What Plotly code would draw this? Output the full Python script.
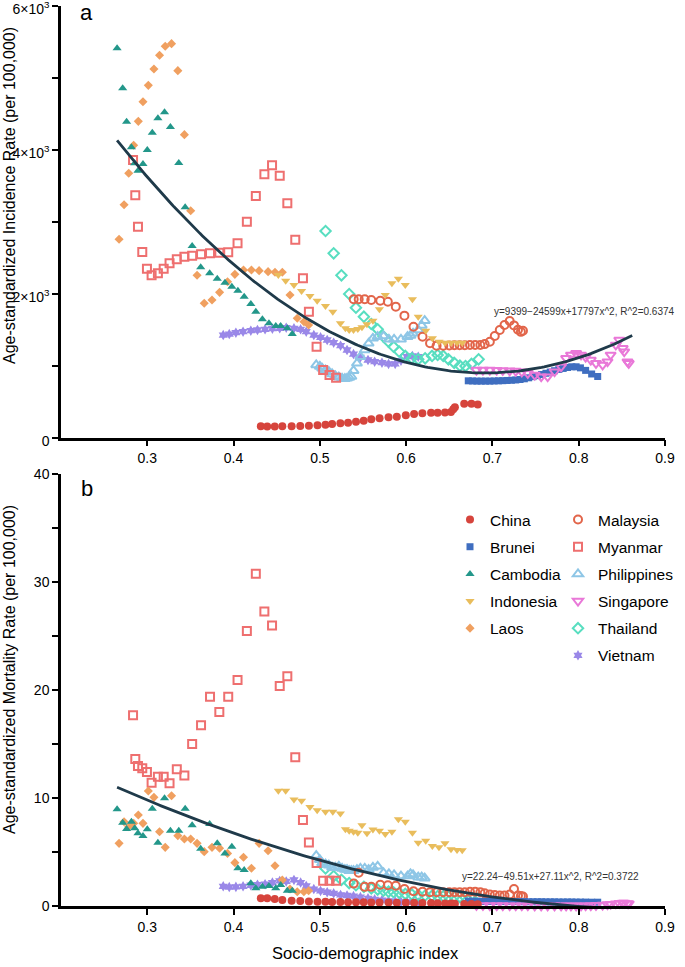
import numpy as np
import plotly.graph_objects as go

# ---------------- data ----------------
countries = ["China", "Brunei", "Cambodia", "Indonesia", "Laos",
             "Malaysia", "Myanmar", "Philippines", "Singapore", "Thailand", "Vietnam"]

china_x = [0.4316, 0.4390, 0.4477, 0.4565, 0.4673, 0.4773, 0.4873, 0.4973, 0.5065, 0.5142, 0.5238, 0.5327, 0.5419, 0.5508, 0.5596,
           0.5692, 0.5796, 0.5892, 0.5996, 0.6092, 0.6188, 0.6289, 0.6365, 0.6450, 0.6519, 0.6546, 0.6565, 0.6673, 0.6757, 0.6830]
china_inc = [158, 157, 157, 158, 160, 163, 167, 172, 180, 190, 200, 209, 222, 236, 255,
             269, 283, 292, 311, 329, 340, 345, 347, 350, 357, 394, 422, 470, 470, 462]
china_mort = [0.74, 0.74, 0.68, 0.58, 0.52, 0.49, 0.45, 0.42, 0.42, 0.40, 0.40, 0.38, 0.38, 0.37, 0.36,
              0.36, 0.35, 0.34, 0.33, 0.32, 0.31, 0.30, 0.28, 0.27, 0.25, 0.24, 0.23, 0.22, 0.21, 0.20]

brunei_x = [0.672, 0.677, 0.682, 0.687, 0.692, 0.697, 0.702, 0.707, 0.712, 0.717, 0.722, 0.727, 0.732, 0.737, 0.742,
            0.747, 0.752, 0.757, 0.762, 0.767, 0.772, 0.777, 0.782, 0.787, 0.792, 0.797, 0.802, 0.808, 0.815, 0.822]
brunei_inc = [790, 788, 786, 786, 786, 786, 788, 790, 792, 795, 798, 802, 808, 818, 832,
              848, 862, 878, 895, 912, 930, 948, 962, 975, 985, 985, 970, 935, 885, 850]
brunei_mort = [0.48, 0.47, 0.47, 0.46, 0.46, 0.45, 0.45, 0.45, 0.44, 0.44, 0.44, 0.43, 0.43, 0.43, 0.42,
               0.42, 0.42, 0.42, 0.41, 0.41, 0.41, 0.40, 0.40, 0.40, 0.40, 0.39, 0.39, 0.39, 0.38, 0.38]

camb_x = [0.2650, 0.2715, 0.2760, 0.2816, 0.2854, 0.2892, 0.2950, 0.3000, 0.3058, 0.3123, 0.3200, 0.3268, 0.3365, 0.3439, 0.3520,
          0.3619, 0.3723, 0.3811, 0.3900, 0.3980, 0.4050, 0.4123, 0.4200, 0.4258, 0.4334, 0.4410, 0.4489, 0.4546, 0.4623, 0.4680]
camb_inc = [5409, 4853, 4389, 4034, 3811, 3709, 3802, 3996, 4237, 4437, 4520, 4316, 3816, 3200, 2663,
            2367, 2284, 2209, 2153, 2098, 2042, 1959, 1857, 1750, 1644, 1589, 1551, 1551, 1519, 1440]
camb_mort = [8.98, 7.74, 7.16, 7.83, 7.22, 6.76, 6.51, 7.13, 9.04, 5.89, 10.0, 7.0, 7.0, 9.04, 7.5,
             5.33, 7.62, 5.83, 4.9, 5.52, 3.52, 3.36, 2.13, 1.67, 1.81, 1.88, 1.67, 1.97, 1.44, 1.44]

indo_x = [0.4519, 0.4604, 0.4700, 0.4788, 0.4885, 0.4969, 0.5065, 0.5150, 0.5238, 0.5296, 0.5340, 0.5390, 0.5440, 0.5488, 0.5546,
          0.5615, 0.5690, 0.5758, 0.5835, 0.5910, 0.5990, 0.6073, 0.6140, 0.6227, 0.6304, 0.6380, 0.6450, 0.6520, 0.6590, 0.6650]
indo_inc = [2260, 2181, 2121, 2038, 1968, 1903, 1829, 1750, 1589, 1520, 1496, 1496, 1510, 1534, 1575,
            1625, 1783, 1982, 2144, 2208, 2121, 1922, 1681, 1486, 1380, 1333, 1320, 1320, 1320, 1320]
indo_mort = [10.7, 10.7, 9.9, 9.78, 9.2, 8.9, 8.76, 8.75, 8.6, 7.13, 7.0, 6.9, 6.8, 7.5, 6.76,
             7.1, 7.0, 6.69, 6.9, 8.05, 7.83, 6.81, 5.89, 6.07, 5.58, 5.46, 5.83, 5.28, 5.21, 5.2]

laos_x = [0.2673, 0.2731, 0.2785, 0.2842, 0.2896, 0.2950, 0.3012, 0.3077, 0.3142, 0.3208, 0.3281, 0.3354, 0.3430, 0.3503, 0.3577,
          0.3660, 0.3750, 0.3838, 0.3930, 0.4015, 0.4115, 0.4207, 0.4296, 0.4400, 0.4480, 0.4565, 0.4654, 0.4738, 0.4815, 0.4870]
laos_inc = [2756, 3236, 3672, 4061, 4394, 4667, 4894, 5121, 5311, 5436, 5473, 5098, 4209, 3153, 2256,
            1867, 1912, 2019, 2167, 2269, 2329, 2329, 2320, 2306, 2297, 2297, 1982, 1658, 1611, 1565]
laos_mort = [5.83, 7.83, 7.37, 7.68, 8.45, 7.68, 10.68, 10.09, 6.9, 5.46, 10.24, 6.54, 6.23, 6.23, 5.83,
             5.06, 5.46, 5.37, 4.9, 4.04, 4.54, 3.52, 5.83, 5.15, 3.76, 2.44, 1.6, 1.35, 1.35, 1.44]

mal_x = [0.5392, 0.5450, 0.5520, 0.5596, 0.5700, 0.5788, 0.5880, 0.5980, 0.6085, 0.6190, 0.6277, 0.6353, 0.6430, 0.6500, 0.6560,
         0.6620, 0.6680, 0.6740, 0.6800, 0.6860, 0.6910, 0.6970, 0.7027, 0.7085, 0.7140, 0.7200, 0.7250, 0.7296, 0.7330, 0.7354]
mal_inc = [1922, 1922, 1922, 1912, 1903, 1889, 1820, 1695, 1542, 1403, 1311, 1278, 1278, 1282, 1285,
           1285, 1285, 1288, 1288, 1288, 1300, 1333, 1413, 1496, 1565, 1621, 1560, 1500, 1470, 1486]
mal_mort = [2.1, 3.1, 1.8, 1.8, 2.0, 1.95, 1.9, 1.6, 1.4, 1.35, 1.3, 1.3, 1.3, 1.3, 1.3,
            1.3, 1.3, 1.35, 1.35, 1.3, 1.2, 1.1, 1.05, 1.0, 1.0, 1.1, 1.6, 1.0, 0.95, 0.9]

myan_x = [0.2835, 0.2861, 0.2892, 0.2942, 0.2996, 0.3050, 0.3123, 0.3190, 0.3258, 0.3342, 0.3430, 0.3520, 0.3623, 0.3727, 0.3835,
          0.3938, 0.4046, 0.4154, 0.4258, 0.4357, 0.4446, 0.4535, 0.4623, 0.4715, 0.4804, 0.4873, 0.4962, 0.5038, 0.5112, 0.5188]
myan_inc = [3857, 3367, 2931, 2579, 2347, 2255, 2283, 2347, 2422, 2478, 2514, 2528, 2547, 2561, 2570,
            2575, 2700, 3000, 3357, 3658, 3783, 3639, 3256, 2750, 2214, 1750, 1264, 940, 871, 834]
myan_mort = [17.69, 13.64, 12.99, 12.78, 12.43, 11.45, 12.0, 12.0, 11.39, 12.68, 12.1, 15.03, 16.76, 19.4, 17.99,
             19.4, 20.95, 25.5, 30.8, 27.3, 26.0, 20.4, 21.3, 13.8, 8.0, 5.9, 4.0, 2.37, 2.37, 2.37]

phil_x = [0.4958, 0.5000, 0.5027, 0.5066, 0.5104, 0.5142, 0.5180, 0.5220, 0.5258, 0.5290, 0.5315, 0.5340, 0.5365, 0.5390, 0.5430,
          0.5470, 0.5520, 0.5565, 0.5615, 0.5670, 0.5738, 0.5800, 0.5860, 0.5940, 0.6016, 0.6050, 0.6080, 0.6140, 0.6180, 0.6215]
phil_inc = [1010, 990, 964, 940, 917, 885, 857, 840, 825, 820, 825, 835, 850, 931, 1033,
            1125, 1218, 1311, 1380, 1403, 1412, 1367, 1367, 1367, 1403, 1420, 1450, 1496, 1560, 1625]
phil_mort = [4.7, 4.3, 4.0, 3.9, 3.8, 3.6, 3.6, 3.7, 3.5, 3.4, 3.4, 3.3, 3.3, 3.3, 3.4,
             3.5, 3.5, 3.4, 3.6, 3.7, 3.1, 3.0, 2.9, 2.8, 2.8, 3.0, 2.9, 2.7, 2.7, 2.6]

sing_x = [0.6815, 0.6890, 0.6970, 0.7050, 0.7120, 0.7200, 0.7270, 0.7340, 0.7410, 0.7490, 0.7565, 0.7640, 0.7720, 0.7796, 0.7854,
          0.7910, 0.7970, 0.8027, 0.8080, 0.8140, 0.8200, 0.8277, 0.8334, 0.8370, 0.8430, 0.8470, 0.8510, 0.8527, 0.8565, 0.8580]
sing_inc = [940, 940, 940, 938, 935, 930, 925, 915, 894, 871, 847, 847, 917, 986, 1103,
            1149, 1172, 1149, 1120, 1079, 1033, 1010, 1056, 1149, 1288, 1357, 1242, 1195, 1056, 1033]
sing_mort = [0.08, 0.08, 0.07, 0.07, 0.07, 0.06, 0.06, 0.06, 0.06, 0.05, 0.05, 0.05, 0.05, 0.05, 0.05,
             0.05, 0.05, 0.05, 0.06, 0.07, 0.09, 0.12, 0.16, 0.20, 0.24, 0.28, 0.30, 0.30, 0.27, 0.24]

thai_x = [0.5066, 0.5160, 0.5250, 0.5340, 0.5418, 0.5510, 0.5596, 0.5670, 0.5738, 0.5796, 0.5854, 0.5920, 0.5990,
          0.6066, 0.6140, 0.6220, 0.6300, 0.6365, 0.6430, 0.6490, 0.6557, 0.6623, 0.6688, 0.6757, 0.6840]
thai_inc = [2871, 2561, 2256, 1996, 1806, 1681, 1579, 1506, 1403, 1333, 1264, 1195, 1135,
            1103, 1089, 1103, 1135, 1149, 1135, 1089, 1040, 1000, 995, 1024, 1089]
thai_mort = [3.5, 2.8, 2.45, 2.15, 1.95, 1.8, 1.65, 1.55, 1.45, 1.35, 1.3, 1.25, 1.15,
             1.1, 1.05, 1.0, 0.98, 0.95, 0.92, 0.9, 0.88, 0.85, 0.82, 0.8, 0.78]

viet_x = [0.3880, 0.3950, 0.4027, 0.4110, 0.4200, 0.4277, 0.4365, 0.4450, 0.4535, 0.4610, 0.4700, 0.4777, 0.4842, 0.4930, 0.5008,
          0.5085, 0.5160, 0.5240, 0.5315, 0.5390, 0.5470, 0.5558, 0.5635, 0.5720, 0.5796, 0.5873, 0.5940, 0.6010, 0.6073, 0.6140]
viet_inc = [1426, 1440, 1458, 1472, 1486, 1496, 1506, 1514, 1519, 1528, 1519, 1506, 1472, 1426, 1394,
            1357, 1320, 1278, 1218, 1162, 1117, 1079, 1056, 1042, 1024, 1024, 1070, 1125, 1135, 1125]
viet_mort = [1.85, 1.78, 1.8, 1.85, 1.95, 2.0, 2.05, 2.2, 2.35, 2.3, 2.44, 2.2, 1.88, 1.6, 1.42,
             1.3, 1.2, 1.05, 1.0, 0.95, 0.85, 0.74, 0.65, 0.58, 0.5, 0.45, 0.42, 0.4, 0.38, 0.36]

# quadratic fits shown in the figure
inc_fit = [9399, -24599, 17797]
mort_fit = [22.24, -49.51, 27.11]
fit_range = [0.265, 0.862]
inc_label = "y=9399\u221224599x+17797x^2, R^2=0.6374"
mort_label = "y=22.24\u221249.51x+27.11x^2, R^2=0.3722"

x_ticks = [0.3, 0.4, 0.5, 0.6, 0.7, 0.8, 0.9]
inc_ticks = [0, 2000, 4000, 6000]
inc_ticktext = ["0", "2\u00d710<sup>3</sup>", "4\u00d710<sup>3</sup>", "6\u00d710<sup>3</sup>"]
mort_ticks = [0, 10, 20, 30, 40]

# ---------------- styles ----------------
series = {
    "China": (china_x, china_inc, china_mort, "circle", "#D6443C", 8),
    "Brunei": (brunei_x, brunei_inc, brunei_mort, "square", "#3F6EC0", 7),
    "Cambodia": (camb_x, camb_inc, camb_mort, "triangle-up", "#23978A", 8),
    "Indonesia": (indo_x, indo_inc, indo_mort, "triangle-down", "#E9BD5C", 8),
    "Laos": (laos_x, laos_inc, laos_mort, "diamond", "#F0A060", 7),
    "Malaysia": (mal_x, mal_inc, mal_mort, "circle-open", "#E2654A", 8),
    "Myanmar": (myan_x, myan_inc, myan_mort, "square-open", "#EE6F6F", 8),
    "Philippines": (phil_x, phil_inc, phil_mort, "triangle-up-open", "#8EC6E6", 9),
    "Singapore": (sing_x, sing_inc, sing_mort, "triangle-down-open", "#E978D8", 9),
    "Thailand": (thai_x, thai_inc, thai_mort, "diamond-open", "#58DEC0", 8),
    "Vietnam": (viet_x, viet_inc, viet_mort, "hexagram", "#9A88E8", 8),
}
draw_order = ["Vietnam", "Thailand", "Philippines", "Myanmar", "Malaysia",
              "Laos", "Indonesia", "Cambodia", "Brunei", "Singapore", "China"]

FONT = "Liberation Sans, Arial, Helvetica, sans-serif"
W, H = 685, 967
fig = go.Figure()

for name in draw_order:
    xs, inc, mort, sym, col, size = series[name]
    idx = countries.index(name)
    leg = "legend" if idx < 5 else "legend2"
    mk = dict(symbol=sym, color=col, size=size)
    if sym.endswith("open"):
        mk["line"] = dict(color=col, width=2)
    fig.add_trace(go.Scatter(x=xs, y=inc, mode="markers", marker=mk, name=name, cliponaxis=False,
                             xaxis="x", yaxis="y", showlegend=False, legendgroup=name))
    fig.add_trace(go.Scatter(x=xs, y=mort, mode="markers", marker=mk, name=name, cliponaxis=False,
                             xaxis="x2", yaxis="y2", showlegend=True, legend=leg,
                             legendgroup=name, legendrank=idx + 1))

fx = np.linspace(fit_range[0], fit_range[1], 200)
fig.add_trace(go.Scatter(x=fx, y=inc_fit[0] + inc_fit[1] * fx + inc_fit[2] * fx ** 2, mode="lines",
                         line=dict(color="#1F3A4A", width=2.8), xaxis="x", yaxis="y", showlegend=False))
fig.add_trace(go.Scatter(x=fx, y=mort_fit[0] + mort_fit[1] * fx + mort_fit[2] * fx ** 2, mode="lines",
                         line=dict(color="#1F3A4A", width=2.8), xaxis="x2", yaxis="y2", showlegend=False))

xdom = [61 / W, 665 / W]
ax_common = dict(showgrid=False, zeroline=False, showline=True, linecolor="black", linewidth=2.5,
                 ticks="outside", ticklen=6, tickwidth=2, tickcolor="black",
                 tickfont=dict(family=FONT, size=14, color="black"), automargin=False,
                 ticklabeloverflow="allow")

fig.update_layout(
    width=W, height=H, margin=dict(l=0, r=0, t=0, b=0),
    paper_bgcolor="white", plot_bgcolor="white",
    font=dict(family=FONT, color="black"),
    xaxis=dict(domain=xdom, range=[0.2, 0.9], tickvals=x_ticks, anchor="y", **ax_common),
    yaxis=dict(domain=[1 - 437.7 / H, 1 - 5.7 / H], range=[0, 6000], tickvals=inc_ticks,
               ticktext=inc_ticktext, anchor="x", ticklabelshift=3,
               minor=dict(tickvals=[1000, 3000, 5000], ticks="outside", ticklen=6, tickwidth=2, tickcolor="black"),
               **ax_common),
    xaxis2=dict(domain=xdom, range=[0.2, 0.9], tickvals=x_ticks, anchor="y2", **ax_common),
    yaxis2=dict(domain=[1 - 906.3 / H, 1 - 474.3 / H], range=[0, 40], tickvals=mort_ticks, anchor="x2",
                minor=dict(tickvals=[5, 15, 25, 35], ticks="outside", ticklen=6, tickwidth=2, tickcolor="black"),
                **ax_common),
    legend=dict(x=450 / W, y=1 - 503 / H, xanchor="left", yanchor="top", bgcolor="rgba(0,0,0,0)",
                font=dict(family=FONT, size=15.5, color="black"), tracegroupgap=4, itemclick=False),
    legend2=dict(x=558 / W, y=1 - 503 / H, xanchor="left", yanchor="top", bgcolor="rgba(0,0,0,0)",
                 font=dict(family=FONT, size=15.5, color="black"), tracegroupgap=4, itemclick=False),
)

ann = [
    dict(text="a", x=87 / W, y=1 - 12 / H, font=dict(size=22)),
    dict(text="b", x=87 / W, y=1 - 488 / H, font=dict(size=22)),
    dict(text="Age-standardized Incidence Rate (per 100,000)", x=9 / W, y=1 - 196 / H,
         textangle=-90, font=dict(size=16)),
    dict(text="Age-standardized Mortality Rate (per 100,000)", x=9 / W, y=1 - 670 / H,
         textangle=-90, font=dict(size=16)),
    dict(text="Socio-demographic index", x=365 / W, y=1 - 953 / H, font=dict(size=16.5)),
    dict(text=inc_label, x=584.5 / W, y=1 - 311 / H, font=dict(size=10, color="#333333")),
    dict(text=mort_label, x=550.5 / W, y=1 - 876 / H, font=dict(size=10, color="#333333")),
]
for a in ann:
    a.update(xref="paper", yref="paper", showarrow=False, xanchor="center", yanchor="middle")
    a["font"] = dict(family=FONT, color=a["font"].get("color", "black"), size=a["font"]["size"])
fig.update_layout(annotations=ann)

fig.write_html("out.html", config={"displayModeBar": False},
               post_script="document.body.style.margin='0';document.body.style.padding='0';")
